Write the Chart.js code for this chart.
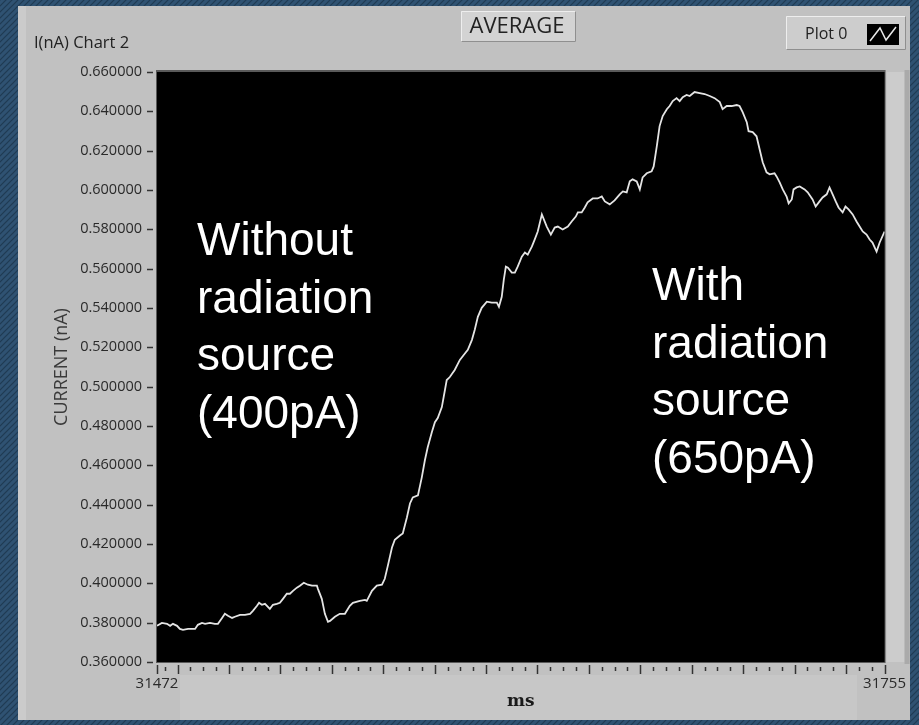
<!DOCTYPE html>
<html>
<head>
<meta charset="utf-8">
<title>I(nA) Chart 2</title>
<script src="https://cdn.jsdelivr.net/npm/chart.js@4.4.1/dist/chart.umd.min.js"></script>
<style>
  html, body { margin: 0; padding: 0; background: #2c4b66; overflow: hidden; }
  canvas { display: block; }
</style>
</head>
<body>
<canvas id="chart" width="919" height="725"></canvas>
<script>
// Sample times (ms) of the averaged current trace
const timeMs = [
  31472.0, 31473.9, 31475.9, 31477.1, 31478.2, 31479.8, 31480.9, 31482.1, 31484.1, 31486.8,
  31487.9, 31489.5, 31490.7, 31492.6, 31494.5, 31495.7, 31497.3, 31498.4, 31499.6, 31501.2,
  31502.3, 31504.3, 31506.2, 31508.2, 31509.3, 31510.9, 31511.7, 31512.8, 31514.0, 31515.9,
  31517.1, 31518.6, 31519.8, 31521.0, 31522.5, 31523.7, 31524.9, 31526.4, 31527.6, 31529.1,
  31530.7, 31532.3, 31534.2, 31534.6, 31536.1, 31537.3, 31538.5, 31539.3, 31541.2, 31543.1,
  31545.1, 31547.0, 31548.2, 31550.9, 31552.9, 31553.6, 31555.6, 31557.5, 31559.5, 31560.6,
  31561.8, 31563.4, 31564.5, 31566.5, 31567.6, 31569.2, 31570.4, 31571.5, 31573.5, 31575.0,
  31576.2, 31577.3, 31578.9, 31580.1, 31581.2, 31582.8, 31584.0, 31584.7, 31585.9, 31587.8,
  31589.8, 31591.3, 31592.9, 31594.5, 31595.6, 31596.8, 31598.3, 31600.3, 31602.2, 31604.2,
  31605.0, 31606.1, 31606.9, 31607.7, 31608.5, 31610.0, 31611.2, 31612.3, 31613.9, 31615.1,
  31616.2, 31617.8, 31618.9, 31620.1, 31621.7, 31623.6, 31625.2, 31626.7, 31627.9, 31629.8,
  31631.8, 31633.3, 31634.9, 31635.7, 31637.2, 31638.4, 31639.5, 31641.5, 31643.4, 31645.0,
  31646.2, 31648.1, 31650.0, 31652.0, 31653.2, 31654.7, 31655.9, 31657.0, 31658.6, 31659.8,
  31660.9, 31662.5, 31664.4, 31665.2, 31666.4, 31667.5, 31668.7, 31670.3, 31671.4, 31672.6,
  31674.1, 31675.3, 31676.5, 31678.0, 31679.2, 31681.1, 31683.1, 31685.0, 31687.0, 31688.9,
  31690.9, 31692.0, 31693.6, 31695.5, 31697.5, 31698.6, 31699.8, 31701.4, 31702.1, 31703.7,
  31705.2, 31706.4, 31707.6, 31709.1, 31710.3, 31712.2, 31713.0, 31714.2, 31715.4, 31716.9,
  31717.7, 31718.9, 31719.6, 31720.8, 31722.0, 31723.9, 31725.1, 31727.0, 31728.2, 31729.7,
  31730.9, 31732.5, 31733.6, 31734.8, 31736.0, 31737.1, 31738.7, 31739.8, 31741.0, 31742.6,
  31744.1, 31745.3, 31746.5, 31748.0, 31749.2, 31750.3, 31751.9, 31753.1, 31755.0
];

// Averaged current (nA) at each sample time
const currentNA = [
  0.3784, 0.3799, 0.3794, 0.3784, 0.3794, 0.3784, 0.3768, 0.3763, 0.3768, 0.3768,
  0.3789, 0.3799, 0.3794, 0.3799, 0.3794, 0.3794, 0.3824, 0.3845, 0.3835, 0.3824,
  0.3830, 0.3840, 0.3840, 0.3845, 0.3860, 0.3886, 0.3901, 0.3891, 0.3896, 0.3870,
  0.3891, 0.3896, 0.3901, 0.3921, 0.3947, 0.3947, 0.3962, 0.3978, 0.3988, 0.4003,
  0.3993, 0.3988, 0.3988, 0.3972, 0.3921, 0.3845, 0.3804, 0.3809, 0.3830, 0.3845,
  0.3845, 0.3886, 0.3901, 0.3911, 0.3916, 0.3911, 0.3962, 0.3988, 0.3993, 0.4023,
  0.4090, 0.4182, 0.4222, 0.4243, 0.4253, 0.4335, 0.4406, 0.4437, 0.4447, 0.4539,
  0.4626, 0.4692, 0.4768, 0.4819, 0.4840, 0.4896, 0.4983, 0.5034, 0.5049, 0.5085,
  0.5136, 0.5161, 0.5187, 0.5238, 0.5289, 0.5355, 0.5401, 0.5432, 0.5427, 0.5427,
  0.5406, 0.5457, 0.5544, 0.5610, 0.5605, 0.5580, 0.5580, 0.5610, 0.5661, 0.5682,
  0.5671, 0.5712, 0.5748, 0.5789, 0.5876, 0.5814, 0.5773, 0.5809, 0.5814, 0.5799,
  0.5814, 0.5840, 0.5865, 0.5886, 0.5886, 0.5911, 0.5937, 0.5957, 0.5957, 0.5967,
  0.5942, 0.5927, 0.5947, 0.5978, 0.5993, 0.5988, 0.6044, 0.6054, 0.6044, 0.6003,
  0.6064, 0.6085, 0.6095, 0.6120, 0.6222, 0.6325, 0.6376, 0.6411, 0.6427, 0.6452,
  0.6467, 0.6452, 0.6472, 0.6483, 0.6478, 0.6498, 0.6493, 0.6488, 0.6478, 0.6467,
  0.6447, 0.6411, 0.6427, 0.6427, 0.6432, 0.6427, 0.6396, 0.6345, 0.6299, 0.6294,
  0.6273, 0.6207, 0.6141, 0.6090, 0.6080, 0.6085, 0.6069, 0.6039, 0.6003, 0.5967,
  0.5932, 0.5952, 0.6003, 0.6013, 0.6018, 0.6003, 0.5988, 0.5952, 0.5916, 0.5942,
  0.5962, 0.5978, 0.6013, 0.5978, 0.5942, 0.5911, 0.5886, 0.5916, 0.5901, 0.5876,
  0.5840, 0.5814, 0.5789, 0.5773, 0.5748, 0.5733, 0.5687, 0.5733, 0.5789
];

// Axis ticks
const yTickValues = [0.36, 0.38, 0.40, 0.42, 0.44, 0.46, 0.48, 0.50, 0.52, 0.54, 0.56, 0.58, 0.60, 0.62, 0.64, 0.66];
const xRange = [31472, 31755];
const xTickLabels = { 31472: '31472', 31755: '31755' };
const xMinorStep = 5;
const xMajorStep = 20;

// Text placed over the plot
const noteLeft = ['Without', 'radiation', 'source', '(400pA)'];
const noteRight = ['With', 'radiation', 'source', '(650pA)'];

// x ticks: both ends plus every minor step in between
const xTickValues = [xRange[0]];
for (let v = Math.ceil(xRange[0] / xMinorStep) * xMinorStep; v < xRange[1]; v += xMinorStep) {
  if (v > xRange[0]) xTickValues.push(v);
}
xTickValues.push(xRange[1]);

function hatchPattern(ctx) {
  const c = document.createElement('canvas');
  c.width = 6; c.height = 6;
  const p = c.getContext('2d');
  p.fillStyle = '#2f5272';
  p.fillRect(0, 0, 6, 6);
  p.strokeStyle = '#203b53';
  p.lineWidth = 1.2;
  p.beginPath();
  p.moveTo(-1, 7); p.lineTo(7, -1);
  p.moveTo(-4, 4); p.lineTo(4, -4);
  p.moveTo(2, 10); p.lineTo(10, 2);
  p.stroke();
  return ctx.createPattern(c, 'repeat');
}

function bevelBox(ctx, x, y, w, h, fill) {
  ctx.fillStyle = fill;
  ctx.fillRect(x, y, w, h);
  ctx.lineWidth = 1;
  ctx.strokeStyle = '#eeeeee';
  ctx.beginPath();
  ctx.moveTo(x + 0.5, y + h - 0.5); ctx.lineTo(x + 0.5, y + 0.5); ctx.lineTo(x + w - 0.5, y + 0.5);
  ctx.stroke();
  ctx.strokeStyle = '#8f8f8f';
  ctx.beginPath();
  ctx.moveTo(x + w - 0.5, y + 0.5); ctx.lineTo(x + w - 0.5, y + h - 0.5); ctx.lineTo(x + 0.5, y + h - 0.5);
  ctx.stroke();
}

// Panel, header and plot background
const panelPlugin = {
  id: 'panel',
  beforeDraw(chart) {
    const { ctx, chartArea: a, width, height } = chart;
    ctx.save();
    ctx.fillStyle = hatchPattern(ctx);
    ctx.fillRect(0, 0, width, height);

    // gray front panel
    ctx.fillStyle = '#c1c1c1';
    ctx.fillRect(18, 6, 892, 714);
    ctx.fillStyle = '#cbcbcb';
    ctx.fillRect(18, 6, 8, 714);
    ctx.fillStyle = '#c7c7c7';
    ctx.fillRect(180, a.bottom + 13, 677, 720 - a.bottom - 13);
    ctx.fillStyle = '#cccccc';
    ctx.fillRect(a.right + 2, a.top, 18, a.bottom - a.top);
    ctx.fillStyle = '#aaaaaa';
    ctx.fillRect(a.right + 20, a.top - 2, 5, a.bottom - a.top + 4);

    // chart label
    ctx.fillStyle = '#222';
    ctx.font = '16.5px "Open Sans"';
    ctx.textAlign = 'left';
    ctx.textBaseline = 'middle';
    ctx.fillText('I(nA) Chart 2', 34, 43);

    // AVERAGE caption box
    bevelBox(ctx, 461, 11, 115, 31, '#d3d3d3');
    ctx.fillStyle = '#222';
    ctx.font = '22px "Open Sans"';
    ctx.textAlign = 'center';
    ctx.fillText('AVERAGE', 517, 26.5);

    // plot legend
    bevelBox(ctx, 786, 16, 120, 34, '#cdcdcd');
    ctx.fillStyle = '#222';
    ctx.font = '16px "Open Sans"';
    ctx.textAlign = 'left';
    ctx.fillText(chart.data.datasets[0].label, 805, 34);
    ctx.fillStyle = '#000';
    ctx.fillRect(867, 24, 32, 21);
    ctx.strokeStyle = '#e8e8e8';
    ctx.lineWidth = 1.5;
    ctx.beginPath();
    ctx.moveTo(870, 41); ctx.lineTo(880, 28); ctx.lineTo(886, 40); ctx.lineTo(896, 27);
    ctx.stroke();

    // plot area
    ctx.fillStyle = '#5a5a5a';
    ctx.fillRect(a.left - 1, a.top - 2, a.right - a.left + 2, a.bottom - a.top + 3);
    ctx.fillStyle = '#000';
    ctx.fillRect(a.left, a.top, a.right - a.left, a.bottom - a.top);
    ctx.restore();
  },
  afterDraw(chart) {
    const { ctx, chartArea: a, scales } = chart;
    ctx.save();
    ctx.strokeStyle = '#333';
    ctx.lineWidth = 1.5;
    // y tick marks
    scales.y.ticks.forEach((t, i) => {
      const py = Math.round(scales.y.getPixelForTick(i)) + 0.5;
      ctx.beginPath();
      ctx.moveTo(a.left - 10, py); ctx.lineTo(a.left - 4, py);
      ctx.stroke();
    });
    // x tick marks, longer at major steps and at the ends
    scales.x.ticks.forEach((t, i) => {
      const px = Math.round(scales.x.getPixelForTick(i)) + 0.5;
      const major = t.value === xRange[0] || t.value === xRange[1] || (t.value % xMajorStep) === 0;
      ctx.beginPath();
      ctx.moveTo(px, a.bottom + (major ? 3 : 5));
      ctx.lineTo(px, a.bottom + (major ? 12 : 9));
      ctx.stroke();
    });

    // notes over the trace
    ctx.fillStyle = '#ffffff';
    ctx.font = '46px "Liberation Sans", Arial, sans-serif';
    ctx.textAlign = 'left';
    ctx.textBaseline = 'alphabetic';
    noteLeft.forEach((s, i) => ctx.fillText(s, a.left + 40, 255 + i * 57.7));
    noteRight.forEach((s, i) => ctx.fillText(s, a.left + 495, 300 + i * 57.7));
    ctx.restore();
  }
};

new Chart(document.getElementById('chart'), {
  type: 'line',
  data: {
    datasets: [{
      label: 'Plot 0',
      data: timeMs.map((t, i) => ({ x: t, y: currentNA[i] })),
      borderColor: '#e4e4e4',
      borderWidth: 1.8,
      pointRadius: 0,
      tension: 0,
      fill: false
    }]
  },
  options: {
    responsive: false,
    animation: false,
    devicePixelRatio: 1,
    layout: { padding: { left: 20, top: 72, right: 34, bottom: 13 } },
    plugins: { legend: { display: false }, tooltip: { enabled: false } },
    scales: {
      x: {
        type: 'linear',
        min: xRange[0],
        max: xRange[1],
        afterFit(s) { s.height = 50; },
        afterBuildTicks(s) { s.ticks = xTickValues.map(v => ({ value: v })); },
        ticks: {
          autoSkip: false,
          maxRotation: 0,
          padding: 13,
          color: '#2a2a2a',
          font: { family: 'Open Sans', size: 15 },
          callback: v => xTickLabels[v] || ''
        },
        grid: { display: false, drawTicks: false },
        border: { display: false },
        title: {
          display: true,
          text: 'ms',
          color: '#1a1a1a',
          font: { family: 'DejaVu Serif', size: 17, weight: 'bold' },
          padding: { top: 0, bottom: 0 }
        }
      },
      y: {
        min: 0.36,
        max: 0.66,
        afterFit(s) { s.width = 137; },
        afterBuildTicks(s) { s.ticks = yTickValues.map(v => ({ value: v })); },
        ticks: {
          padding: 15,
          color: '#2a2a2a',
          font: { family: 'Open Sans', size: 14.5 },
          callback: v => Number(v).toFixed(6)
        },
        grid: { display: false, drawTicks: false },
        border: { display: false },
        title: {
          display: true,
          text: 'CURRENT (nA)',
          color: '#3a3a3a',
          font: { family: 'Open Sans', size: 18 },
          padding: { top: 31, bottom: 0 }
        }
      }
    }
  },
  plugins: [panelPlugin]
});
</script>
</body>
</html>
